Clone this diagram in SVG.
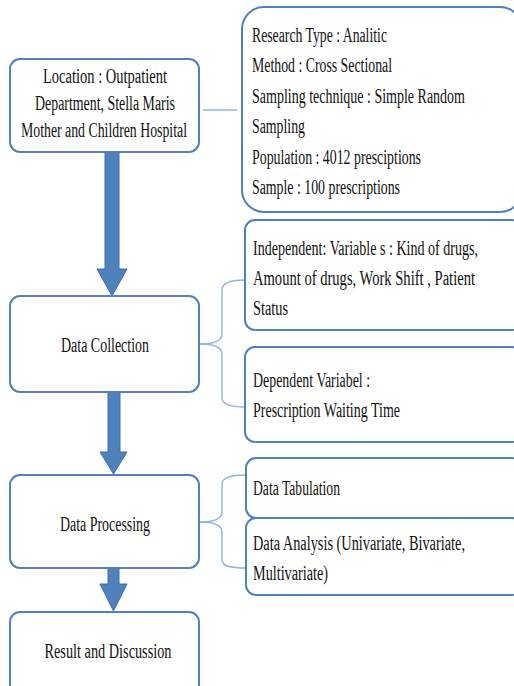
<svg xmlns="http://www.w3.org/2000/svg" width="514" height="686" viewBox="0 0 514 686">
<defs>
<style>
.box{fill:#fff;stroke:#4f81bd;stroke-width:2}
.t{font-family:"Liberation Serif","Times New Roman",serif;font-size:20px;fill:#111}
.c{text-anchor:middle}
.arrow{fill:#4f81bd;stroke:#3e6ea8;stroke-width:1}
.brace{fill:none;stroke:#8db3e2;stroke-width:1.4}
</style>
</defs>
<rect width="514" height="686" fill="#fff"/>
<g id="connectors">
<line class="brace" x1="203" y1="110" x2="237" y2="110"/>
<path class="brace" d="M200 344 C214 344 222 341 222 334 L222 290 C222 283 230 280 245 280"/>
<path class="brace" d="M200 344 C214 344 222 347 222 354 L222 398 C222 404 230 407 245 407"/>
<path class="brace" d="M200 522 C214 522 222 519 222 512 L222 484 C222 478 230 475 246 475"/>
<path class="brace" d="M200 522 C214 522 222 525 222 532 L222 560 C222 566 230 568 246 568"/>
<path class="arrow" d="M105 152 H119 V269 H127 L112 296 L97 269 H105 Z"/>
<path class="arrow" d="M108 392 H120 V452 H127 L113.5 474 L100 452 H108 Z"/>
<path class="arrow" d="M108 568 H119 V584 H127 L113.5 611 L100 584 H108 Z"/>
</g>
<g id="location">
<rect class="box" x="10" y="59" width="189" height="93" rx="10"/>
<text class="t c" x="105" y="83" textLength="124" lengthAdjust="spacingAndGlyphs">Location : Outpatient</text>
<text class="t c" x="105" y="110" textLength="140" lengthAdjust="spacingAndGlyphs">Department, Stella Maris</text>
<text class="t c" x="104" y="137" textLength="166" lengthAdjust="spacingAndGlyphs">Mother and Children Hospital</text>
</g>
<g id="research">
<rect class="box" x="242" y="7" width="280" height="205" rx="22"/>
<text class="t" x="252" y="42" textLength="135" lengthAdjust="spacingAndGlyphs">Research Type : Analitic</text>
<text class="t" x="252" y="72" textLength="140" lengthAdjust="spacingAndGlyphs">Method : Cross Sectional</text>
<text class="t" x="252" y="103" textLength="213" lengthAdjust="spacingAndGlyphs">Sampling  technique : Simple Random</text>
<text class="t" x="252" y="133" textLength="53" lengthAdjust="spacingAndGlyphs">Sampling</text>
<text class="t" x="252" y="164" textLength="169" lengthAdjust="spacingAndGlyphs">Population : 4012 presciptions</text>
<text class="t" x="252" y="194" textLength="148" lengthAdjust="spacingAndGlyphs">Sample : 100 prescriptions</text>
</g>
<g id="data-collection">
<rect class="box" x="10" y="296" width="189" height="96" rx="10"/>
<text class="t c" x="105" y="352" textLength="88" lengthAdjust="spacingAndGlyphs">Data Collection</text>
</g>
<g id="independent">
<rect class="box" x="245" y="220" width="277" height="110" rx="10"/>
<text class="t" x="253" y="255" textLength="225" lengthAdjust="spacingAndGlyphs">Independent: Variable s :  Kind of drugs,</text>
<text class="t" x="253" y="285" textLength="222" lengthAdjust="spacingAndGlyphs">Amount of  drugs, Work  Shift  , Patient</text>
<text class="t" x="253" y="315" textLength="35" lengthAdjust="spacingAndGlyphs">Status</text>
</g>
<g id="dependent">
<rect class="box" x="245" y="347" width="277" height="95" rx="10"/>
<text class="t" x="253" y="387" textLength="117" lengthAdjust="spacingAndGlyphs">Dependent Variabel :</text>
<text class="t" x="253" y="417" textLength="147" lengthAdjust="spacingAndGlyphs">Prescription Waiting Time</text>
</g>
<g id="data-processing">
<rect class="box" x="10" y="475" width="189" height="93" rx="10"/>
<text class="t c" x="105" y="531" textLength="90" lengthAdjust="spacingAndGlyphs">Data Processing</text>
</g>
<g id="tabulation">
<rect class="box" x="246" y="458" width="276" height="60" rx="10"/>
<text class="t" x="253" y="495" textLength="87" lengthAdjust="spacingAndGlyphs">Data Tabulation</text>
</g>
<g id="analysis">
<rect class="box" x="246" y="518" width="276" height="77" rx="10"/>
<text class="t" x="253" y="550" textLength="212" lengthAdjust="spacingAndGlyphs">Data Analysis  (Univariate, Bivariate,</text>
<text class="t" x="253" y="580" textLength="75" lengthAdjust="spacingAndGlyphs">Multivariate)</text>
</g>
<g id="result">
<rect class="box" x="10" y="612" width="189" height="100" rx="10"/>
<text class="t c" x="108" y="658" textLength="127" lengthAdjust="spacingAndGlyphs">Result  and Discussion</text>
</g>
</svg>
